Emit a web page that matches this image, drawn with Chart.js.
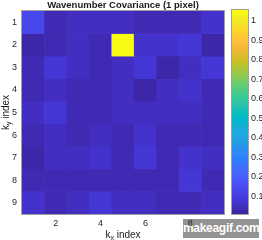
<!DOCTYPE html>
<html lang="en">
<head>
    <meta charset="UTF-8">
    <title>Wavenumber Covariance</title>
    <script src="https://cdn.jsdelivr.net/npm/chart.js"></script>
    <style>
        body { margin: 0; background: #fff; font-family: "Liberation Sans", Arial, sans-serif; }
        .wrap { position: relative; width: 262px; height: 240px; overflow: hidden; }
        #mainChart { position: absolute; left: 0; top: 0; }
        #barChart { position: absolute; left: 226px; top: 0; }
        .wm {
            position: absolute; left: 183px; top: 219px; width: 76px; height: 19px;
            background: rgba(135, 135, 135, 0.9); color: #fff;
            font: bold 12px "Liberation Sans", Arial, sans-serif; line-height: 19px;
            text-align: center; letter-spacing: -0.3px;
        }
    </style>
</head>
<body>
<div class="wrap">
    <div class="wm">makeagif.com</div>
    <canvas id="mainChart" width="262" height="240"></canvas>
    <canvas id="barChart" width="36" height="240"></canvas>
</div>
<script>
// data
const kxLabels = ['1', '2', '3', '4', '5', '6', '7', '8', '9'];
const kxTicks = ['2', '4', '6', '8'];
const kyRows = [1, 2, 3, 4, 5, 6, 7, 8, 9];
const cov = [
    [0.13, 0.03, 0.055, 0.055, 0.055, 0.04, 0.04, 0.04, 0.065],
    [0.018, 0.035, 0.045, 0.035, 1.055, 0.065, 0.06, 0.08, 0.018],
    [0.035, 0.08, 0.045, 0.035, 0.05, 0.075, 0.014, 0.055, 0.075],
    [0.04, 0.05, 0.035, 0.035, 0.055, 0.022, 0.055, 0.06, 0.04],
    [0.045, 0.08, 0.04, 0.04, 0.05, 0.045, 0.05, 0.05, 0.04],
    [0.04, 0.05, 0.03, 0.045, 0.04, 0.07, 0.03, 0.035, 0.04],
    [0.018, 0.045, 0.055, 0.07, 0.04, 0.08, 0.03, 0.07, 0.05],
    [0.03, 0.03, 0.04, 0.035, 0.03, 0.035, 0.04, 0.08, 0.035],
    [0.07, 0.035, 0.055, 0.08, 0.045, 0.045, 0.04, 0.035, 0.055]
];
const colorTicks = [0.1, 0.2, 0.3, 0.4, 0.5, 0.6, 0.7, 0.8, 0.9, 1];
const cMin = 0.008;
const cMax = 1.055;

// parula(64)
const parula = [
[.2422,.1504,.6603],[.2504,.1650,.7076],[.2578,.1818,.7511],[.2647,.1978,.7952],
[.2706,.2147,.8364],[.2751,.2342,.8710],[.2783,.2559,.8991],[.2803,.2782,.9221],
[.2813,.3006,.9414],[.2810,.3228,.9579],[.2795,.3447,.9717],[.2760,.3667,.9829],
[.2699,.3892,.9906],[.2602,.4123,.9952],[.2440,.4358,.9988],[.2206,.4603,.9973],
[.1963,.4847,.9892],[.1834,.5074,.9798],[.1786,.5289,.9682],[.1764,.5499,.9520],
[.1687,.5703,.9359],[.1540,.5902,.9218],[.1460,.6091,.9079],[.1380,.6276,.8973],
[.1248,.6459,.8883],[.1113,.6635,.8763],[.0952,.6798,.8598],[.0689,.6948,.8394],
[.0297,.7082,.8163],[.0036,.7203,.7917],[.0067,.7312,.7660],[.0433,.7411,.7394],
[.0964,.7500,.7120],[.1408,.7584,.6842],[.1717,.7670,.6554],[.1938,.7758,.6251],
[.2161,.7843,.5923],[.2470,.7918,.5567],[.2906,.7973,.5188],[.3406,.8008,.4789],
[.3909,.8029,.4354],[.4456,.8024,.3909],[.5044,.7993,.3480],[.5616,.7942,.3045],
[.6174,.7876,.2612],[.6720,.7793,.2227],[.7242,.7698,.1910],[.7738,.7598,.1646],
[.8203,.7498,.1535],[.8634,.7406,.1596],[.9035,.7330,.1774],[.9393,.7288,.2100],
[.9728,.7298,.2394],[.9956,.7434,.2371],[.9970,.7659,.2199],[.9952,.7893,.2028],
[.9892,.8136,.1885],[.9786,.8386,.1766],[.9676,.8639,.1643],[.9610,.8890,.1537],
[.9597,.9135,.1423],[.9628,.9373,.1265],[.9691,.9606,.1064],[.9769,.9839,.0805]
];
function rgbOf(c) {
    return 'rgb(' + c.map(v => Math.round(v * 255)).join(',') + ')';
}
function colorFor(v) {
    let i = Math.floor((v - cMin) / (cMax - cMin) * 64);
    i = Math.max(0, Math.min(63, i));
    return rgbOf(parula[i]);
}

const FONT = '"Liberation Sans", Arial, sans-serif';
Chart.defaults.font.family = FONT;
Chart.defaults.color = '#262626';

// title, axis titles with subscripts, box
const decor = {
    id: 'decor',
    afterDraw(chart) {
        const ctx = chart.ctx;
        const a = chart.chartArea;
        const cx = (a.left + a.right) / 2;
        ctx.save();
        ctx.strokeStyle = '#a0a0a0';
        ctx.lineWidth = 1;
        ctx.strokeRect(a.left - 0.5, a.top - 0.5, a.right - a.left + 1, a.bottom - a.top + 1);

        ctx.fillStyle = '#1a1a1a';
        ctx.textAlign = 'center';
        ctx.textBaseline = 'middle';
        ctx.font = 'bold 9.5px ' + FONT;
        ctx.fillText('Wavenumber Covariance (1 pixel)', cx, 5);

        function subTitle(x, y, sub, rot) {
            ctx.save();
            ctx.translate(x, y);
            if (rot) ctx.rotate(-Math.PI / 2);
            ctx.font = '10px ' + FONT;
            const wk = ctx.measureText('k').width;
            const rest = ' index';
            const wr = ctx.measureText(rest).width;
            ctx.font = '7px ' + FONT;
            const ws = ctx.measureText(sub).width;
            let x0 = -(wk + ws + wr) / 2;
            ctx.textAlign = 'left';
            ctx.textBaseline = 'alphabetic';
            ctx.font = '10px ' + FONT;
            ctx.fillText('k', x0, 3.5);
            ctx.font = '7px ' + FONT;
            ctx.fillText(sub, x0 + wk, 6);
            ctx.font = '10px ' + FONT;
            ctx.fillText(rest, x0 + wk + ws, 3.5);
            ctx.restore();
        }
        subTitle(cx, 234, 'x', false);
        subTitle(5, (a.top + a.bottom) / 2, 'y', true);
        ctx.restore();
    }
};

const heatSets = kyRows.map((row, r) => ({
    label: 'ky ' + row,
    data: kxLabels.map(() => [row - 0.5, row + 0.5]),
    backgroundColor: cov[r].map(colorFor),
    borderWidth: 0,
    barPercentage: 1,
    categoryPercentage: 1,
    grouped: false
}));

new Chart(document.getElementById('mainChart').getContext('2d'), {
    type: 'bar',
    data: { labels: kxLabels, datasets: heatSets },
    options: {
        responsive: false,
        animation: false,
        layout: { padding: { left: 0, top: 11, right: 38, bottom: 0 } },
        plugins: { legend: { display: false }, tooltip: { enabled: false } },
        scales: {
            x: {
                grid: { display: false, drawTicks: false },
                border: { display: false },
                ticks: {
                    padding: 4,
                    font: { size: 9 },
                    maxRotation: 0,
                    autoSkip: false,
                    callback: function(val, i) {
                        const l = kxLabels[i];
                        return kxTicks.includes(l) ? l : '';
                    }
                },
                afterFit: s => { s.height = 26; }
            },
            y: {
                type: 'linear',
                reverse: true,
                min: 0.5,
                max: 9.5,
                grid: { display: false, drawTicks: false },
                border: { display: false },
                ticks: { padding: 5, font: { size: 9 } },
                afterBuildTicks: s => { s.ticks = kyRows.map(v => ({ value: v })); },
                afterFit: s => { s.width = 22; }
            }
        }
    },
    plugins: [decor]
});

// colorbar
const nBins = parula.length;
const barSets = parula.map((c, i) => ({
    data: [[cMin + (cMax - cMin) * i / nBins, cMin + (cMax - cMin) * (i + 1) / nBins]],
    backgroundColor: rgbOf(c),
    borderWidth: 0,
    barPercentage: 1,
    categoryPercentage: 1,
    grouped: false
}));

const barFrame = {
    id: 'barFrame',
    afterDraw(chart) {
        const ctx = chart.ctx;
        const a = chart.chartArea;
        ctx.save();
        ctx.strokeStyle = '#a0a0a0';
        ctx.lineWidth = 1;
        ctx.strokeRect(a.left - 0.5, a.top - 0.5, a.right - a.left + 1, a.bottom - a.top + 1);
        ctx.restore();
    }
};

new Chart(document.getElementById('barChart').getContext('2d'), {
    type: 'bar',
    data: { labels: ['c'], datasets: barSets },
    options: {
        responsive: false,
        animation: false,
        layout: { padding: { left: 6, top: 10, right: 0, bottom: 26 } },
        plugins: { legend: { display: false }, tooltip: { enabled: false } },
        scales: {
            x: { display: false },
            y: {
                type: 'linear',
                position: 'right',
                min: cMin,
                max: cMax,
                grid: { display: false, drawTicks: false },
                border: { display: false },
                ticks: { padding: 3, font: { size: 9 }, callback: v => String(v) },
                afterBuildTicks: s => { s.ticks = colorTicks.map(v => ({ value: v })); },
                afterFit: s => { s.width = 14; }
            }
        }
    },
    plugins: [barFrame]
});
</script>
</body>
</html>
